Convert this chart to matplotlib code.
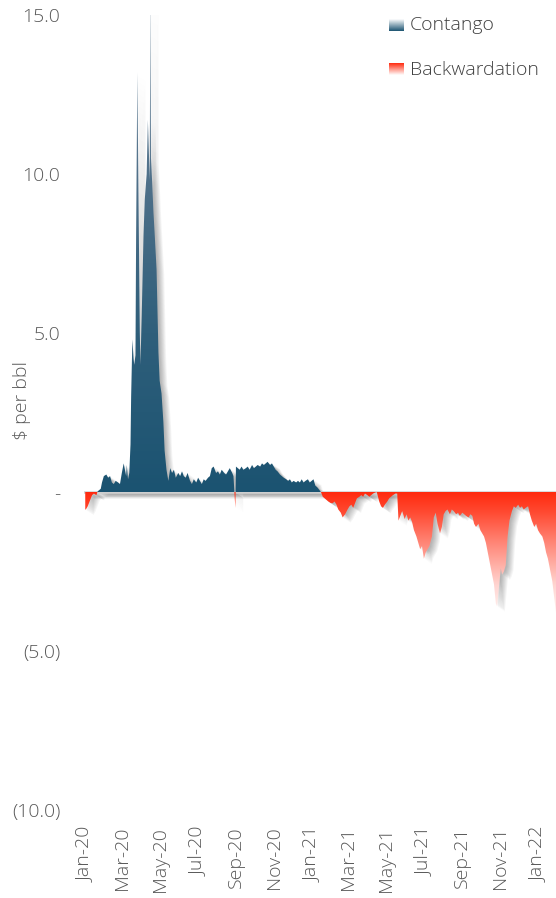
import numpy as np
import matplotlib
matplotlib.use("Agg")
import matplotlib.pyplot as plt
import matplotlib.dates as mdates
from matplotlib.colors import LinearSegmentedColormap
from matplotlib.ticker import FuncFormatter, FixedLocator
from matplotlib.transforms import offset_copy
from matplotlib.path import Path

# WTI front-month calendar spread, $ per bbl (positive = contango, negative = backwardation)
dates = [
    "2020-01-02", "2020-01-03", "2020-01-06", "2020-01-09", "2020-01-13", "2020-01-16",
    "2020-01-20", "2020-01-22", "2020-01-27", "2020-01-29", "2020-02-01", "2020-02-05",
    "2020-02-08", "2020-02-11", "2020-02-14", "2020-02-17", "2020-02-20", "2020-02-24",
    "2020-02-27", "2020-03-01", "2020-03-04", "2020-03-08", "2020-03-09", "2020-03-11",
    "2020-03-13", "2020-03-15", "2020-03-16", "2020-03-18", "2020-03-20", "2020-03-21",
    "2020-03-23", "2020-03-24", "2020-03-26", "2020-03-28", "2020-03-30", "2020-03-31",
    "2020-04-02", "2020-04-05", "2020-04-07", "2020-04-10", "2020-04-12", "2020-04-15",
    "2020-04-16", "2020-04-17", "2020-04-19", "2020-04-21", "2020-04-23", "2020-04-26",
    "2020-04-29", "2020-05-01", "2020-05-04", "2020-05-07", "2020-05-09", "2020-05-12",
    "2020-05-15", "2020-05-18", "2020-05-21", "2020-05-24", "2020-05-27", "2020-05-31",
    "2020-06-03", "2020-06-06", "2020-06-09", "2020-06-12", "2020-06-15", "2020-06-19",
    "2020-06-22", "2020-06-25", "2020-06-29", "2020-07-02", "2020-07-05", "2020-07-08",
    "2020-07-11", "2020-07-14", "2020-07-18", "2020-07-21", "2020-07-24", "2020-07-27",
    "2020-07-31", "2020-08-03", "2020-08-06", "2020-08-09", "2020-08-13", "2020-08-16",
    "2020-08-19", "2020-08-22", "2020-08-26", "2020-08-28", "2020-08-31", "2020-09-01",
    "2020-09-04", "2020-09-07", "2020-09-10", "2020-09-13", "2020-09-17", "2020-09-20",
    "2020-09-23", "2020-09-27", "2020-09-30", "2020-10-03", "2020-10-06", "2020-10-10",
    "2020-10-13", "2020-10-16", "2020-10-19", "2020-10-22", "2020-10-26", "2020-10-29",
    "2020-11-01", "2020-11-04", "2020-11-07", "2020-11-11", "2020-11-14", "2020-11-17",
    "2020-11-21", "2020-11-24", "2020-11-27", "2020-11-30", "2020-12-03", "2020-12-07",
    "2020-12-10", "2020-12-13", "2020-12-16", "2020-12-19", "2020-12-22", "2020-12-26",
    "2020-12-29", "2021-01-01", "2021-01-04", "2021-01-07", "2021-01-10", "2021-01-14",
    "2021-01-16", "2021-01-19", "2021-01-22", "2021-01-25", "2021-01-28", "2021-02-01",
    "2021-02-04", "2021-02-07", "2021-02-10", "2021-02-13", "2021-02-17", "2021-02-20",
    "2021-02-24", "2021-02-28", "2021-03-03", "2021-03-06", "2021-03-09", "2021-03-12",
    "2021-03-15", "2021-03-19", "2021-03-22", "2021-03-25", "2021-03-28", "2021-04-01",
    "2021-04-04", "2021-04-07", "2021-04-10", "2021-04-13", "2021-04-16", "2021-04-20",
    "2021-04-23", "2021-04-26", "2021-04-29", "2021-05-03", "2021-05-06", "2021-05-09",
    "2021-05-12", "2021-05-16", "2021-05-19", "2021-05-21", "2021-05-24", "2021-05-27",
    "2021-05-31", "2021-06-03", "2021-06-06", "2021-06-09", "2021-06-12", "2021-06-15",
    "2021-06-19", "2021-06-22", "2021-06-25", "2021-06-28", "2021-07-01", "2021-07-04",
    "2021-07-07", "2021-07-10", "2021-07-14", "2021-07-17", "2021-07-20", "2021-07-23",
    "2021-07-27", "2021-07-30", "2021-08-02", "2021-08-05", "2021-08-08", "2021-08-12",
    "2021-08-15", "2021-08-18", "2021-08-22", "2021-08-25", "2021-08-28", "2021-09-01",
    "2021-09-04", "2021-09-07", "2021-09-11", "2021-09-14", "2021-09-17", "2021-09-20",
    "2021-09-23", "2021-09-27", "2021-09-30", "2021-10-03", "2021-10-06", "2021-10-09",
    "2021-10-12", "2021-10-15", "2021-10-18", "2021-10-22", "2021-10-25", "2021-10-27",
    "2021-10-30", "2021-11-02", "2021-11-04", "2021-11-07", "2021-11-10", "2021-11-13",
    "2021-11-16", "2021-11-20", "2021-11-23", "2021-11-26", "2021-11-30", "2021-12-03",
    "2021-12-06", "2021-12-09", "2021-12-12", "2021-12-16", "2021-12-19", "2021-12-22",
    "2021-12-26", "2021-12-29", "2022-01-01", "2022-01-04", "2022-01-08", "2022-01-11",
    "2022-01-14", "2022-01-17", "2022-01-20", "2022-01-24", "2022-01-27", "2022-01-30",
]

spread = [
    -0.55, -0.55, -0.45, -0.30, -0.10, -0.05,
    -0.10, 0.02, 0.10, 0.30, 0.50, 0.55,
    0.45, 0.50, 0.30, 0.25, 0.35, 0.30,
    0.25, 0.60, 0.90, 0.50, 0.85, 0.40,
    0.60, 1.50, 3.00, 4.80, 4.20, 4.00,
    4.30, 8.00, 13.20, 9.00, 5.00, 4.00,
    5.50, 8.10, 9.20, 10.00, 11.70, 9.80,
    16.00, 10.50, 9.70, 8.80, 8.10, 7.00,
    4.40, 3.50, 3.10, 2.20, 1.30, 0.70,
    0.35, 0.75, 0.60, 0.70, 0.45, 0.60,
    0.50, 0.65, 0.50, 0.45, 0.60, 0.35,
    0.25, 0.40, 0.30, 0.45, 0.35, 0.25,
    0.40, 0.35, 0.45, 0.50, 0.75, 0.80,
    0.60, 0.65, 0.55, 0.70, 0.60, 0.55,
    0.65, 0.75, 0.60, 0.50, -0.50, 0.80,
    0.75, 0.70, 0.80, 0.70, 0.75, 0.80,
    0.70, 0.85, 0.75, 0.80, 0.85, 0.80,
    0.90, 0.85, 0.90, 0.95, 0.85, 0.90,
    0.80, 0.70, 0.65, 0.55, 0.50, 0.45,
    0.40, 0.35, 0.40, 0.30, 0.35, 0.30,
    0.35, 0.30, 0.40, 0.30, 0.35, 0.40,
    0.30, 0.35, 0.40, 0.20, 0.15, 0.05,
    0.00, -0.15, -0.20, -0.25, -0.30, -0.35,
    -0.35, -0.30, -0.40, -0.55, -0.65, -0.80,
    -0.70, -0.55, -0.45, -0.40, -0.50, -0.35,
    -0.20, -0.15, -0.10, -0.15, -0.05, -0.10,
    -0.15, -0.10, -0.05, -0.02, 0.00, -0.30,
    -0.45, -0.50, -0.40, -0.30, -0.20, -0.15,
    -0.10, -0.05, -0.05, -0.90, -0.75, -0.60,
    -0.85, -0.70, -0.90, -0.80, -0.95, -1.20,
    -1.40, -1.60, -1.80, -1.70, -2.10, -1.90,
    -1.80, -1.70, -1.40, -0.80, -0.65, -1.00,
    -1.30, -1.10, -0.70, -0.60, -0.55, -0.70,
    -0.55, -0.60, -0.70, -0.65, -0.75, -0.65,
    -0.70, -0.75, -0.80, -0.70, -0.75, -1.00,
    -1.10, -1.00, -1.20, -1.30, -1.40, -1.60,
    -1.90, -2.20, -2.50, -2.90, -3.50, -3.60,
    -3.00, -2.40, -2.60, -2.50, -2.30, -1.40,
    -0.90, -0.60, -0.45, -0.50, -0.40, -0.50,
    -0.45, -0.55, -0.50, -0.45, -0.70, -0.90,
    -1.10, -1.00, -1.20, -1.30, -1.40, -1.60,
    -1.90, -2.10, -2.40, -2.80, -3.30, -3.80,
]

y_ticks = [15, 10, 5, 0, -5, -10]
series_names = ["Contango", "Backwardation"]
y_title = "$ per bbl"

TEXT = "#595959"
FONT = ["Open Sans", "DejaVu Sans"]
plt.rcParams["font.family"] = FONT
plt.rcParams["font.weight"] = "light"

x = mdates.date2num(np.array(dates, dtype="datetime64[D]"))
v = np.array(spread, dtype=float)

W, H = 556, 898
fig = plt.figure(figsize=(W / 100, H / 100), dpi=100)
ax = fig.add_axes([84 / W, 1 - 810 / H, 1 - 84 / W, (810 - 15) / H])

xmin = mdates.date2num(np.datetime64("2019-12-31"))
xmax = mdates.date2num(np.datetime64("2022-01-30"))

# soft drop shadow behind the areas
for d in range(1, 9):
    tr = offset_copy(ax.transData, fig=fig, x=d * 0.9, y=-d * 0.6, units="dots")
    ax.fill_between(x, 0, v, color="black", alpha=0.04, lw=0, transform=tr, zorder=1)

# zero line with its shadow
for d in range(1, 6):
    tr = offset_copy(ax.transData, fig=fig, x=d * 1.0, y=-d * 1.0, units="dots")
    ax.plot([xmin + 10, xmax], [0, 0], color="black", alpha=0.05, lw=2, transform=tr, zorder=1)
ax.axhline(0, color="#cfcfcf", lw=1.8, zorder=2)

cont = ax.fill_between(x, 0, v, where=v >= 0, interpolate=True, facecolor="none", lw=0, zorder=3)
back = ax.fill_between(x, 0, v, where=v <= 0, interpolate=True, facecolor="none", lw=0, zorder=3)

cmap_c = LinearSegmentedColormap.from_list("contango", ["#1b5371", "#2f5f7b", "#51718a", "#7890a3"])
cmap_b = LinearSegmentedColormap.from_list(
    "backwardation", [(0.0, "#ffffff"), (0.3, "#ffd6d2"), (0.62, "#ff8677"), (0.85, "#ff4a32"), (1.0, "#ff2a0e")]
)
grad = np.linspace(0, 1, 512).reshape(-1, 1)


def gradient_into(coll, cmap, y0, y1):
    paths = coll.get_paths()
    if not paths:
        return
    clip = Path.make_compound_path(*paths)
    im = ax.imshow(grad, cmap=cmap, aspect="auto", origin="lower",
                   extent=[xmin, xmax, y0, y1], zorder=4, interpolation="bilinear")
    im.set_clip_path(clip, transform=ax.transData)


gradient_into(cont, cmap_c, 0, 15)
gradient_into(back, cmap_b, -4.2, 0)

ax.set_xlim(xmin, xmax)
ax.set_ylim(-10, 15)
for s in ax.spines.values():
    s.set_visible(False)


def acct(val, pos):
    if abs(val) < 1e-9:
        return "-"
    if val < 0:
        return f"({abs(val):.1f})"
    return f"{val:.1f}"


ax.yaxis.set_major_locator(FixedLocator(y_ticks))
ax.yaxis.set_major_formatter(FuncFormatter(acct))
ax.xaxis.set_major_locator(mdates.MonthLocator(bymonth=[1, 3, 5, 7, 9, 11]))
ax.xaxis.set_major_formatter(mdates.DateFormatter("%b-%y"))
ax.tick_params(axis="y", length=0, pad=17, labelsize=14, labelcolor=TEXT)
ax.tick_params(axis="x", length=0, pad=12, labelsize=14, labelcolor=TEXT, labelrotation=90)

fig.text(22 / W, 1 - 400 / H, y_title, rotation=90, ha="center", va="center",
         fontsize=14, color=TEXT, family=["Liberation Sans Narrow", "Open Sans", "DejaVu Sans"])

# legend: gradient swatches and labels
sw_c = fig.add_axes([389 / W, 1 - 31 / H, 15 / W, 12 / H])
sw_c.imshow(grad, cmap=LinearSegmentedColormap.from_list("sc", ["#1b5371", "#ffffff"]),
            aspect="auto", origin="lower")
sw_c.set_axis_off()
sw_b = fig.add_axes([389 / W, 1 - 75 / H, 15 / W, 12 / H])
sw_b.imshow(grad, cmap=LinearSegmentedColormap.from_list("sb", ["#ffffff", "#ff2a0e"]),
            aspect="auto", origin="lower")
sw_b.set_axis_off()
fig.text(410 / W, 1 - 30 / H, series_names[0], ha="left", va="baseline", fontsize=14, color="#404040")
fig.text(410 / W, 1 - 75 / H, series_names[1], ha="left", va="baseline", fontsize=14, color="#404040")

fig.savefig("out.png", dpi=100)
